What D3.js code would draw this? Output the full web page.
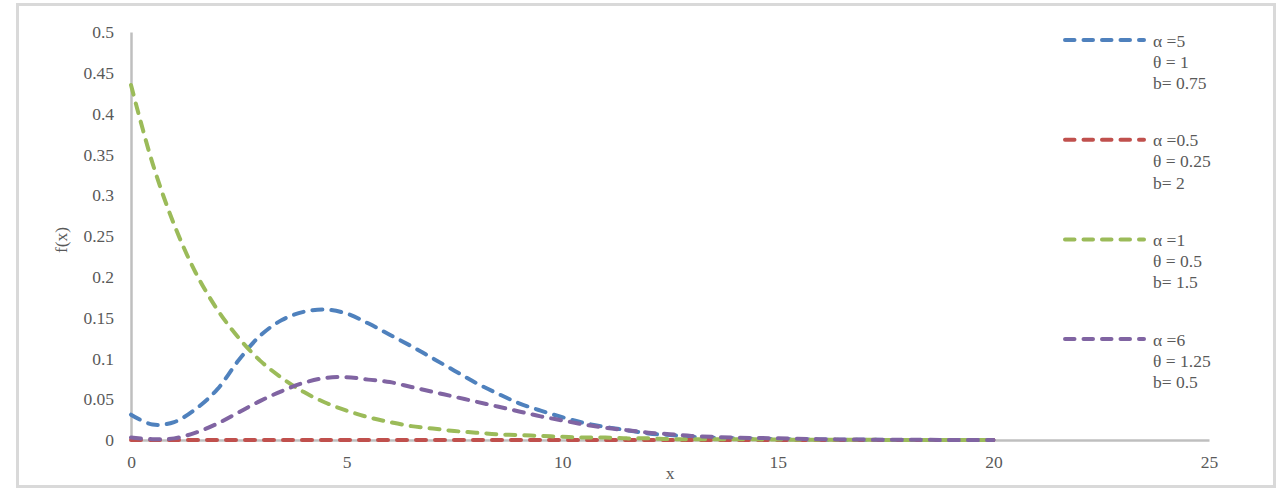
<!DOCTYPE html>
<html>
<head>
<meta charset="utf-8">
<script src="https://cdn.jsdelivr.net/npm/d3@7"></script>
<style>
  html, body { margin: 0; padding: 0; background: #fff; }
  svg { display: block; }
  text { font-family: "Liberation Serif", "DejaVu Serif", serif; fill: #595959; }
</style>
</head>
<body>
<svg id="chart" width="1287" height="491"></svg>
<script>
const xs = [0,0.5,1,1.5,2,2.5,3,3.5,4,4.5,5,5.5,6,6.5,7,7.5,8,8.5,9,9.5,10,10.5,11,11.5,12,12.5,13,14,15,16,17,18,19,20];
const blueVals = [0.031,0.019,0.022,0.038,0.062,0.098,0.128,0.147,0.157,0.160,0.155,0.143,0.129,0.115,0.100,0.085,0.070,0.057,0.045,0.036,0.028,0.021,0.016,0.012,0.008,0.006,0.004,0.002,0.001,0.0005,0.0002,0.0001,0,0];
const redVals = [0,0,0,0,0,0,0,0,0,0,0,0,0,0,0,0,0,0,0,0,0,0,0,0,0,0,0,0,0,0,0,0,0,0];
const greenVals = [0.435,0.339,0.264,0.205,0.160,0.125,0.097,0.076,0.059,0.046,0.036,0.028,0.022,0.017,0.014,0.011,0.009,0.007,0.006,0.005,0.004,0.003,0.003,0.002,0.002,0.001,0.001,0.001,0.0005,0.0003,0.0002,0.0001,0,0];
const purpleVals = [0.003,0.001,0.002,0.009,0.020,0.034,0.048,0.060,0.070,0.076,0.077,0.074,0.071,0.065,0.059,0.053,0.047,0.041,0.035,0.029,0.024,0.019,0.015,0.012,0.009,0.007,0.005,0.003,0.002,0.001,0.0005,0.0003,0.0001,0];

const seriesNames = ["blue", "red", "green", "purple"];
const legendLines = [
  ["α =5", "θ = 1", "b= 0.75"],
  ["α =0.5", "θ = 0.25", "b= 2"],
  ["α =1", "θ = 0.5", "b= 1.5"],
  ["α =6", "θ = 1.25", "b= 0.5"]
];
const xTicks = [0, 5, 10, 15, 20, 25];
const yTicks = [0, 0.05, 0.1, 0.15, 0.2, 0.25, 0.3, 0.35, 0.4, 0.45, 0.5];
const colors = ["#4f81bd", "#c0504d", "#9bbb59", "#8064a2"];

const series = [blueVals, redVals, greenVals, purpleVals].map((vals, i) => ({
  name: seriesNames[i], color: colors[i], legend: legendLines[i],
  points: xs.map((x, j) => ({ x, y: vals[j] }))
}));

const svg = d3.select("#chart");
const FS = 17.5;

// outer frame
svg.append("rect").attr("x", 17.5).attr("y", 4.5).attr("width", 1257).attr("height", 482)
  .attr("fill", "#fff").attr("stroke", "#d9d9d9").attr("stroke-width", 3);

const x = d3.scaleLinear().domain([0, 25]).range([131, 1209]);
const y = d3.scaleLinear().domain([0, 0.5]).range([440, 32]);

// axes
const yAxis = svg.append("g").attr("transform", "translate(131,0)")
  .call(d3.axisLeft(y).tickValues(yTicks).tickSize(0).tickPadding(17)
    .tickFormat(d => String(+d.toFixed(2))));
const xAxis = svg.append("g").attr("transform", "translate(0,440)")
  .call(d3.axisBottom(x).tickValues(xTicks).tickSize(0).tickPadding(16)
    .tickFormat(d => String(d)));
[yAxis, xAxis].forEach(g => {
  g.select(".domain").attr("stroke", "#bfbfbf").attr("stroke-width", 2.5);
  g.selectAll("text").attr("font-size", FS).attr("font-family", "Liberation Serif").attr("fill", "#595959");
});

// axis titles
svg.append("text").attr("x", 670).attr("y", 479).attr("text-anchor", "middle")
  .attr("font-size", FS).text("x");
svg.append("text").attr("transform", "translate(67,240) rotate(-90)").attr("text-anchor", "middle")
  .attr("font-size", FS).text("f(x)");

// lines
const line = d3.line().x(d => x(d.x)).y(d => y(d.y)).curve(d3.curveCatmullRom.alpha(0.5));
svg.append("g").selectAll("path").data(series).join("path")
  .attr("d", d => line(d.points))
  .attr("fill", "none").attr("stroke", d => d.color).attr("stroke-width", 4)
  .attr("stroke-linecap", "round").attr("stroke-dasharray", "10 9");

// legend
const lg = svg.append("g").selectAll("g").data(series).join("g")
  .attr("transform", (d, i) => `translate(0,${40 + i * 99.7})`);
lg.append("line").attr("x1", 1065).attr("x2", 1144).attr("y1", 0).attr("y2", 0)
  .attr("stroke", d => d.color).attr("stroke-width", 4)
  .attr("stroke-linecap", "round").attr("stroke-dasharray", "9.5 9");
lg.each(function(d) {
  const g = d3.select(this);
  d.legend.forEach((t, k) => {
    g.append("text").attr("x", 1153).attr("y", k * 21.3 + 6.5)
      .attr("font-size", FS).text(t);
  });
});
</script>
</body>
</html>
